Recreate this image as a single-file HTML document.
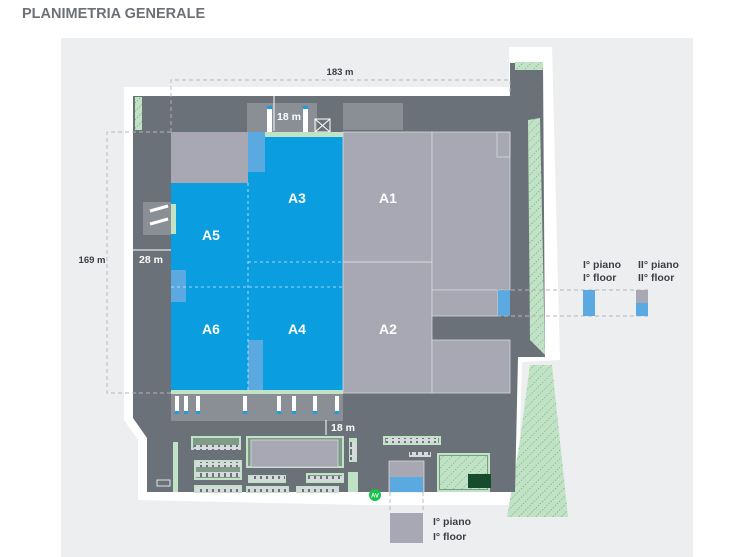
<!DOCTYPE html>
<html><head><meta charset="utf-8"><style>
html,body{margin:0;padding:0;background:#fff;}
svg{display:block;font-family:"Liberation Sans",sans-serif;}
</style></head><body>
<svg width="744" height="557" viewBox="0 0 744 557" xmlns="http://www.w3.org/2000/svg">
<defs>
<pattern id="h" width="6" height="6" patternUnits="userSpaceOnUse" patternTransform="rotate(45)">
<rect width="6" height="6" fill="#bfe3c4"/><line x1="0" y1="0" x2="0" y2="6" stroke="#5b7d60" stroke-width="0.8" stroke-dasharray="1.5,1.5"/></pattern>
<pattern id="p" width="6" height="8" patternUnits="userSpaceOnUse">
<rect width="6" height="8" fill="#d8d9de"/><rect x="2" y="1" width="2" height="6" fill="#6b7178"/></pattern>
</defs>
<text x="22" y="18" font-size="14.5" font-weight="bold" fill="#6d7177">PLANIMETRIA GENERALE</text>
<rect x="61" y="38" width="632" height="519" fill="#edeef0"/>
<polygon points="124,87 509,87 509,47 552,47 560,360 522,362 518,505 364,505 138,500 138,440 124,420" fill="#fff"/>
<polygon points="530,365 552,365 568,517 507,517 520,440" fill="url(#h)"/>
<polygon points="133,96 510,96 510,63 543,63 545,357 518,357 515,492 147,492 147,438 133,418" fill="#6b7178"/>
<polygon points="528,120 540,118 545,355 530,340" fill="url(#h)"/>
<rect x="135" y="97" width="7" height="33" fill="url(#h)"/>
<rect x="515" y="62" width="28" height="8" fill="url(#h)"/>
<rect x="247" y="103" width="70" height="29" fill="#8a8e95"/>
<rect x="343" y="103" width="60" height="27" fill="#8a8e95"/>
<rect x="267" y="108" width="5" height="24" fill="#fff"/><rect x="303" y="108" width="5" height="24" fill="#fff"/>
<rect x="267" y="106" width="5" height="3" fill="#1a9ee0"/><rect x="303" y="106" width="5" height="3" fill="#1a9ee0"/>
<rect x="315" y="119" width="15" height="13" fill="none" stroke="#fff" stroke-width="1"/>
<path d="M315,119 L330,132 M330,119 L315,132" stroke="#fff" stroke-width="1"/>
<line x1="274" y1="95" x2="274" y2="131" stroke="#fff" stroke-width="1"/>
<rect x="171" y="132" width="77" height="51" fill="#a7a8b4"/>
<rect x="171" y="183" width="172" height="207" fill="#0a9de0"/>
<rect x="248" y="132" width="95" height="51" fill="#0a9de0"/>
<rect x="248" y="132" width="17" height="40" fill="#5aa9e0"/>
<rect x="171" y="270" width="15" height="32" fill="#5aa9e0"/>
<rect x="248" y="340" width="15" height="52" fill="#5aa9e0"/>
<rect x="265" y="132" width="80" height="5" fill="#bfe3c4"/>
<rect x="171" y="390" width="172" height="4" fill="#bfe3c4"/>
<g stroke="#cfeaff" stroke-dasharray="3,3" stroke-width="0.8" fill="none">
<line x1="171" y1="287" x2="343" y2="287"/><line x1="248" y1="183" x2="248" y2="390"/><line x1="248" y1="262" x2="343" y2="262"/>
</g>
<rect x="343" y="132" width="89" height="261" fill="#a7a8b4" stroke="#d8d9de" stroke-width="0.8"/>
<line x1="343" y1="262" x2="432" y2="262" stroke="#d8d9de"/>
<rect x="432" y="132" width="78" height="158" fill="#a7a8b4" stroke="#d8d9de" stroke-width="0.8"/>
<rect x="497" y="132" width="13" height="25" fill="none" stroke="#d8d9de" stroke-width="0.8"/>
<rect x="432" y="290" width="66" height="26" fill="#a7a8b4" stroke="#d8d9de" stroke-width="0.8"/>
<rect x="432" y="340" width="78" height="53" fill="#a7a8b4" stroke="#d8d9de" stroke-width="0.8"/>
<rect x="498" y="290" width="12" height="26" fill="#5aa9e0"/>
<rect x="143" y="202" width="28" height="33" fill="#8a8e95"/>
<line x1="150" y1="211" x2="168" y2="206" stroke="#fff" stroke-width="3"/>
<line x1="150" y1="224" x2="168" y2="219" stroke="#fff" stroke-width="3"/>
<rect x="171" y="204" width="5" height="30" fill="#bfe3c4"/>
<rect x="171" y="394" width="172" height="27" fill="#8a8e95"/>
<g fill="#fff"><rect x="175" y="396" width="4" height="16"/><rect x="184" y="396" width="4" height="16"/><rect x="196" y="396" width="4" height="16"/><rect x="243" y="396" width="4" height="16"/><rect x="277" y="396" width="4" height="16"/><rect x="292" y="396" width="4" height="16"/><rect x="313" y="396" width="4" height="16"/><rect x="335" y="396" width="4" height="16"/></g>
<g fill="#1a9ee0"><rect x="175" y="411" width="4" height="3"/><rect x="184" y="411" width="4" height="3"/><rect x="196" y="411" width="4" height="3"/><rect x="243" y="411" width="4" height="3"/><rect x="277" y="411" width="4" height="3"/><rect x="292" y="411" width="4" height="3"/><rect x="313" y="411" width="4" height="3"/><rect x="335" y="411" width="4" height="3"/></g>
<!-- bottom parking: green outlines -->
<g fill="#7f9a86" stroke="#bfe3c4" stroke-width="2">
<rect x="192" y="437" width="48" height="12"/><rect x="195" y="461" width="46" height="18"/><rect x="195" y="486" width="46" height="6"/>
<rect x="247" y="437" width="96" height="30"/><rect x="249" y="476" width="36" height="6"/><rect x="307" y="474" width="36" height="8"/>
<rect x="247" y="487" width="41" height="5"/><rect x="297" y="487" width="41" height="5"/>
<rect x="384" y="437" width="56" height="7"/><rect x="438" y="454" width="51" height="37"/>
</g>
<rect x="440" y="456" width="47" height="33" fill="url(#h)"/>
<g fill="#bfe3c4"><rect x="349" y="438" width="8" height="24"/><rect x="173" y="442" width="5" height="50"/><rect x="348" y="472" width="10" height="20"/></g>
<rect x="251" y="440" width="87" height="27" fill="#a7a8b4" stroke="#d8d9de" stroke-width="0.8"/>
<g fill="url(#p)"><rect x="194" y="445" width="46" height="5"/><rect x="196" y="462" width="45" height="5"/><rect x="196" y="472" width="45" height="5"/><rect x="196" y="487" width="45" height="5"/><rect x="250" y="476" width="35" height="5"/><rect x="308" y="476" width="35" height="5"/><rect x="248" y="487" width="40" height="5"/><rect x="298" y="487" width="40" height="5"/><rect x="386" y="438" width="52" height="5"/><rect x="409" y="452" width="22" height="5"/><rect x="350" y="442" width="6" height="18"/></g>
<rect x="157" y="480" width="13" height="6" fill="none" stroke="#fff" stroke-width="0.8"/>
<rect x="389" y="461" width="35" height="31" fill="#a7a8b4" stroke="#d8d9de" stroke-width="0.8"/>
<rect x="390" y="477" width="33" height="15" fill="#5aa9e0"/>
<rect x="468" y="474" width="23" height="14" fill="#174b2e"/>
<circle cx="375" cy="495" r="6" fill="#16c44a"/>
<text x="375" y="497.5" font-size="6" font-weight="bold" fill="#fff" text-anchor="middle">AV</text>
<line x1="326" y1="420" x2="326" y2="435" stroke="#fff"/>
<g stroke="#b4b6bb" stroke-dasharray="4,3" fill="none" stroke-width="0.9">
<polyline points="171,132 171,80 510,80 510,96"/>
<polyline points="171,132 107,132 107,393 171,393"/>
<polyline points="497,290 650,290"/><polyline points="497,316 650,316"/>
<polyline points="390,492 390,513"/><polyline points="423,492 423,513"/>
</g>
<line x1="133" y1="250" x2="171" y2="250" stroke="#fff"/>
<rect x="583" y="290" width="12" height="26" fill="#5aa9e0"/>
<rect x="636" y="290" width="12" height="26" fill="#5aa9e0"/>
<rect x="636" y="290" width="12" height="13" fill="#a7a8b4"/>
<rect x="390" y="513" width="33" height="30" fill="#a7a8b4"/>
<g font-size="9.5" font-weight="bold" fill="#3b3f45">
<text x="340" y="75" text-anchor="middle">183 m</text>
<text x="92" y="263" text-anchor="middle">169 m</text>
</g>
<g font-size="10.5" font-weight="bold" fill="#fff">
<text x="277" y="120">18 m</text><text x="139" y="263">28 m</text><text x="331" y="431">18 m</text>
</g>
<g font-size="14" font-weight="bold" fill="#fff" text-anchor="middle">
<text x="297" y="203">A3</text><text x="388" y="203">A1</text><text x="211" y="240">A5</text>
<text x="211" y="334">A6</text><text x="297" y="334">A4</text><text x="388" y="334">A2</text>
</g>
<g font-size="10.5" font-weight="bold" fill="#3b3f45">
<text x="583" y="268">I° piano</text><text x="583" y="281">I° floor</text>
<text x="638" y="268">II° piano</text><text x="638" y="281">II° floor</text>
<text x="433" y="525">I° piano</text><text x="433" y="540">I° floor</text>
</g>
</svg>
</body></html>
